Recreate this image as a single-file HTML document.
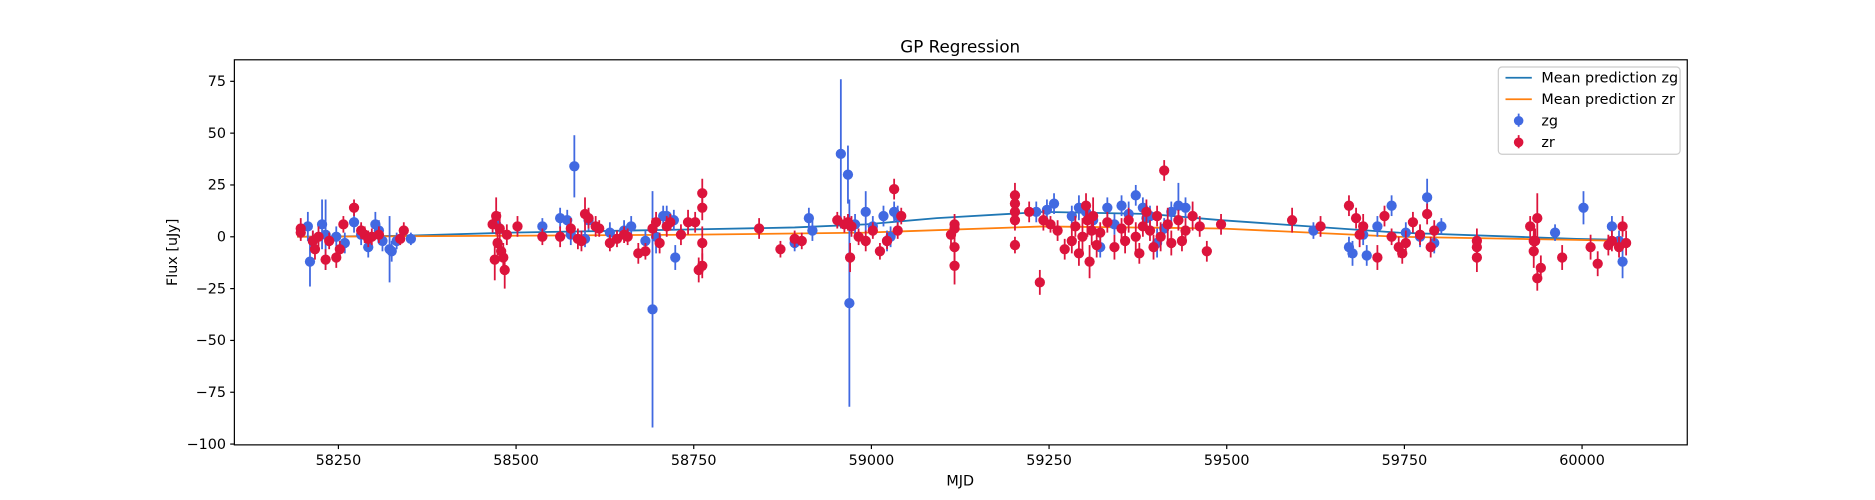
<!DOCTYPE html>
<html><head><meta charset="utf-8">
<style>
body{margin:0;background:#fff;}
svg{display:block;font-family:"DejaVu Sans","Liberation Sans",sans-serif;}
</style></head>
<body>
<svg id="chart" width="1875" height="500" viewBox="0 0 1568 418.1" preserveAspectRatio="none">
<rect width="1568" height="418.1" fill="#fff"/>
<text x="803" y="44" font-size="14" text-anchor="middle">GP Regression</text>
<g id="lines"></g>
<g id="pts"></g>
<rect x="196" y="50" width="1215" height="322" fill="none" stroke="#000" stroke-width="1"/>
<g id="axes"></g>
<text x="803" y="406" font-size="12" text-anchor="middle">MJD</text>
<text transform="translate(148,211) rotate(-90)" font-size="12" text-anchor="middle">Flux [uJy]</text>
<g>
<rect x="1253" y="56" width="152" height="73" rx="3" fill="#fff" fill-opacity="0.8" stroke="#ccc"/>
<g><line x1="1259" y1="65" x2="1281" y2="65" stroke="#1f77b4" stroke-width="1.5"/><text x="1289" y="69" font-size="12">Mean prediction zg</text></g>
<g><line x1="1259" y1="83" x2="1281" y2="83" stroke="#ff7f0e" stroke-width="1.5"/><text x="1289" y="87" font-size="12">Mean prediction zr</text></g>
<g><line x1="1270" y1="95" x2="1270" y2="106" stroke="#4169e1" stroke-width="1.5"/><circle cx="1270" cy="101" r="4" fill="#4169e1"/><text x="1289" y="105" font-size="12">zg</text></g>
<g><line x1="1270" y1="113" x2="1270" y2="124" stroke="#dc143c" stroke-width="1.5"/><circle cx="1270" cy="119" r="4" fill="#dc143c"/><text x="1289" y="123" font-size="12">zr</text></g>
</g>
</svg>
<script>
const xTicks=[58250,58500,58750,59000,59250,59500,59750,60000];
const yTicks=[75,50,25,0,-25,-50,-75,-100];
const meanZgX=[58192,58342,58492,58742,58892,58992,59092,59242,59392,59492,59742,59992,60062];
const meanZgY=[0,0.5,2,3.5,4.5,6,9,12,11,8,2,-1,-1.5];
const meanZrX=[58192,58492,58742,58992,59242,59492,59742,59992,60062];
const meanZrY=[0,0.5,1,2,5,4,0,-1.5,-2];
const zgX=[58207,58214,58210,58227,58232,58247,58259,58272,58282,58292,58302,58307,58312,58322,58325,58332,58352,58472,58537,58562,58572,58577,58582,58597,58602,58632,58652,58662,58682,58692,58697,58707,58712,58722,58724,58892,58912,58917,58957,58967,58969,58977,58992,59002,59017,59032,59037,59022,59027,59232,59247,59257,59282,59292,59302,59322,59332,59352,59362,59372,59382,59392,59402,59412,59422,59432,59442,59312,59342,59387,59622,59672,59677,59692,59697,59712,59732,59752,59772,59782,59802,59792,59962,60002,60042,60052,60057];
const zgY=[5,-2,-12,6,1,0,-3,7,1,-5,6,3,-2,-6,-7,-2,-1,6,5,9,8,1,34,-1,8,2,3,5,-2,-35,0,10,10,8,-10,-3,9,3,40,30,-32,6,12,5,10,12,10,-2,0,12,13,16,10,14,12,-5,14,15,11,20,14,10,-3,4,12,15,14,8,6,9,3,-5,-8,1,-9,5,15,2,0,19,5,-3,2,14,5,-2,-12];
const zgE=[7,5,12,12,17,5,5,5,5,5,6,5,5,16,5,4,3,4,4,5,5,5,15,4,5,5,5,5,5,57,8,5,5,5,6,4,5,5,36,14,50,5,10,5,5,5,5,5,5,5,5,5,5,6,5,5,5,5,6,5,5,5,7,5,5,11,5,5,5,5,4,5,6,5,5,5,5,5,5,9,4,5,4,8,5,5,8];
const zrX=[58197,58197,58214,58217,58222,58232,58237,58247,58252,58257,58272,58282,58287,58292,58297,58307,58337,58342,58467,58470,58472,58474,58477,58479,58482,58484,58487,58502,58537,58562,58577,58587,58592,58597,58602,58612,58617,58632,58642,58652,58657,58672,58682,58692,58697,58712,58717,58702,58732,58742,58752,58757,58762,58762,58762,58762,58842,58872,58892,58902,58952,58962,58967,58970,58972,58982,58992,59002,59012,59022,59032,59037,59042,59117,59117,59117,59117,59112,59202,59202,59202,59202,59202,59222,59237,59242,59252,59262,59272,59282,59287,59292,59297,59302,59304,59307,59310,59312,59317,59322,59332,59342,59352,59357,59362,59372,59377,59382,59387,59392,59397,59402,59407,59412,59417,59422,59432,59437,59442,59452,59462,59472,59492,59592,59632,59672,59682,59687,59692,59712,59722,59732,59742,59747,59752,59762,59772,59782,59787,59792,59852,59852,59852,59927,59932,59932,59934,59937,59937,59942,59972,60012,60022,60037,60042,60052,60057,60062];
const zrY=[4,2,-2,-6,0,-11,-2,-10,-6,6,14,3,1,-1,0,1,-1,3,6,-11,10,-3,4,-7,-10,-16,1,5,0,0,4,-1,-2,11,9,5,4,-3,-1,1,0,-8,-7,4,7,5,7,-3,1,7,7,-16,21,14,-3,-14,4,-6,-1,-2,8,6,7,-10,5,0,-2,3,-7,-2,23,3,10,6,4,-5,-14,1,20,16,12,8,-4,12,-22,8,6,3,-6,-2,5,-8,0,15,8,-12,3,10,-4,2,7,-5,4,-2,8,0,-8,5,12,3,-5,10,0,32,6,-3,8,-2,3,10,5,-7,6,8,5,15,9,1,5,-10,10,0,-5,-8,-3,7,1,11,-5,3,-2,-10,-5,5,-2,-7,-2,-20,9,-15,-10,-5,-13,-4,-2,-5,5,-3,0,-6,7];
const zrE=[5,4,5,5,5,5,4,5,4,4,4,4,4,4,4,4,3,4,4,10,9,6,8,5,7,9,5,5,4,5,5,5,5,8,5,5,4,4,4,4,4,5,4,5,5,5,4,5,5,6,5,6,7,6,8,6,5,4,4,4,4,4,4,7,5,4,5,4,4,4,5,4,4,5,5,8,9,5,6,5,5,5,4,5,6,5,4,5,5,6,5,6,9,6,8,8,7,9,6,5,5,6,5,6,6,7,5,5,6,5,6,5,7,5,8,6,5,5,6,7,5,5,5,6,5,5,5,6,6,6,5,4,5,5,6,5,5,5,5,5,6,7,5,5,8,8,6,6,12,6,6,6,6,5,5,5,5,6,5,6,6,8];

const X=v=>283+(v-58250)*0.5943;
const Y=v=>198-v*1.7333;
const NS="http://www.w3.org/2000/svg";
function mk(tag,attrs,parent){const e=document.createElementNS(NS,tag);for(const k in attrs)e.setAttribute(k,attrs[k]);parent.appendChild(e);return e;}
const axes=document.getElementById('axes');
xTicks.forEach(t=>{
  const g=mk('g',{},axes);
  
  
  mk('line',{x1:X(t),x2:X(t),y1:372,y2:375.5,stroke:'#000'},g);
  const tx=mk('text',{x:X(t),y:389,'font-size':12,'text-anchor':'middle'},g);tx.textContent=t;
});
yTicks.forEach(t=>{
  const g=mk('g',{},axes);
  
  
  mk('line',{x1:192.5,x2:196,y1:Y(t),y2:Y(t),stroke:'#000'},g);
  const tx=mk('text',{x:189,y:Y(t)+4,'font-size':12,'text-anchor':'end'},g);tx.textContent=t<0?'\u2212'+(-t):t;
});
const lines=document.getElementById('lines');
function line(xs,ys,col,name){
  const p=mk('polyline',{points:xs.map((x,i)=>X(x)+','+Y(ys[i])).join(' '),fill:'none',stroke:col,'stroke-width':1.5},lines);
  
  
}
line(meanZgX,meanZgY,'#1f77b4','mean-line-zg');
line(meanZrX,meanZrY,'#ff7f0e','mean-line-zr');
const pts=document.getElementById('pts');
function series(xs,ys,es,col,name){
  const g=mk('g',{},pts);
  
  
  xs.forEach((x,i)=>{
    const e=mk('line',{x1:X(x),x2:X(x),y1:Y(ys[i]+es[i]),y2:Y(ys[i]-es[i]),stroke:col,'stroke-width':1.5},g);
    
    
    const c=mk('circle',{cx:X(x),cy:Y(ys[i]),r:4.3,fill:col},g);
    
    
  });
}
series(zgX,zgY,zgE,'#4169e1','zg');
series(zrX,zrY,zrE,'#dc143c','zr');
</script>
</body></html>
